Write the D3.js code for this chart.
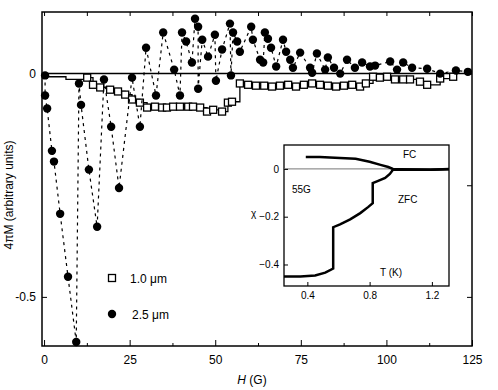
<!DOCTYPE html>
<meta charset="utf-8">
<style>
body { margin: 0; background: #fff; }
text { font-family: "Liberation Sans", Arial, sans-serif; fill: #000; }
</style>
<svg width="498" height="390"></svg>
<script src="https://cdn.jsdelivr.net/npm/d3@7/dist/d3.min.js"></script>
<script>

// 1.0 um disk: field H (G) and magnetisation (arb. units)
var smallH = [0, 4.1, 6.4, 9.1, 12.6, 14.3, 16.4, 19.3, 21.6, 23.7, 25.7, 28.0, 30.1, 32.4, 34.5, 35.9,
  37.7, 39.7, 42.1, 43.5, 45.6, 47.6, 49.4, 52.0, 53.7, 54.9, 57.2, 59.6, 61.9, 64.3, 66.6, 68.9,
  71.3, 73.6, 75.9, 78.3, 80.6, 82.9, 85.3, 87.6, 90.0, 92.3, 94.0, 96.1, 98.1, 100.2, 102.5,
  104.9, 106.9, 109.8, 111.9, 115.7, 119.5];
var smallM = [-0.007, -0.007, -0.013, -0.013, -0.009, -0.025, -0.031, -0.036, -0.040, -0.047, -0.058,
  -0.065, -0.076, -0.074, -0.076, -0.076, -0.074, -0.074, -0.074, -0.074, -0.076, -0.085, -0.081,
  -0.085, -0.065, -0.063, -0.022, -0.025, -0.027, -0.027, -0.029, -0.027, -0.025, -0.029, -0.025,
  -0.022, -0.025, -0.027, -0.029, -0.027, -0.025, -0.029, -0.022, -0.007, -0.009, -0.007, -0.013,
  -0.013, -0.013, -0.018, -0.025, -0.011, -0.007];

// 2.5 um disk
var bigH = [0.3, 0.3, 0.9, 2.3, 2.9, 4.7, 7.0, 9.4, 10.2, 10.8, 13.1, 15.5, 17.5, 19.6, 21.9, 25.7,
  28.0, 29.8, 32.7, 34.8, 38.0, 39.7, 40.3, 41.5, 43.2, 44.1, 45.0, 45.0, 46.2, 47.9, 49.9, 50.2,
  52.0, 54.3, 54.6, 55.2, 56.4, 57.2, 60.5, 61.0, 63.1, 64.0, 64.5, 65.4, 66.3, 67.8, 69.8, 70.7,
  71.9, 72.7, 74.8, 77.7, 78.3, 79.7, 82.1, 82.9, 84.7, 86.5, 88.5, 90.8, 92.9, 95.2, 96.7, 101.1,
  103.1, 104.9, 107.5, 111.9, 115.7, 120.3, 123.8];
var bigM = [-0.004, -0.049, -0.078, -0.173, -0.197, -0.314, -0.455, -0.601, -0.022, -0.070, -0.215,
  -0.343, -0.013, -0.119, -0.256, -0.009, -0.119, 0.058, -0.049, 0.092, 0.009, -0.049, 0.092, 0.072,
  0.025, 0.123, 0.105, -0.034, 0.076, 0.038, 0.087, -0.016, 0.054, 0.112, -0.004, 0.092, 0.072,
  0.049, 0.105, 0.076, 0.031, 0.025, 0.092, 0.078, 0.058, 0.016, 0.076, 0.049, 0.031, 0.013, 0.047,
  0.013, 0.002, 0.045, 0.009, 0.036, 0.013, 0.000, 0.031, 0.013, 0.025, 0.016, 0.018, 0.027, 0.009,
  0.025, 0.013, 0.011, 0.000, 0.007, 0.004];

// inset: susceptibility vs T at 55 G
var fcT = [0.39, 0.48, 0.61, 0.71, 0.80, 0.87, 0.92, 0.95, 1.06, 1.19, 1.31];
var fcChi = [0.05, 0.05, 0.046, 0.042, 0.03, 0.017, 0.008, 0, -0.002, -0.004, 0];
var zfcT = [0.25, 0.355, 0.45, 0.515, 0.566, 0.566, 0.61, 0.675, 0.74, 0.79, 0.82, 0.82, 0.855, 0.9, 0.93, 0.95, 1.06, 1.19, 1.31];
var zfcChi = [-0.45, -0.45, -0.446, -0.434, -0.417, -0.244, -0.232, -0.211, -0.185, -0.16, -0.143, -0.059, -0.05, -0.038, -0.021, -0.004, -0.003, -0.004, -0.001];

var xMajor = [0, 25, 50, 75, 100, 125],
    xMinor = [12.5, 37.5, 62.5, 87.5, 112.5],
    insetXTicks = [0.4, 0.8, 1.2],
    insetYTicks = [0, -0.2, -0.4];

var svg = d3.select("svg");

var x = d3.scaleLinear().domain([-0.6, 125]).range([42, 472]);
var y = d3.scaleLinear().domain([-0.61, 0.138]).range([346, 12]);

function zip(a, b) { return a.map(function(d, i) { return [d, b[i]]; }); }
var small = zip(smallH, smallM), big = zip(bigH, bigM);

// frame
svg.append("rect")
    .attr("x", x.range()[0]).attr("y", y.range()[1])
    .attr("width", x.range()[1] - x.range()[0])
    .attr("height", y.range()[0] - y.range()[1])
    .attr("fill", "none").attr("stroke", "#000").attr("stroke-width", 1.5);

// zero line
svg.append("line")
    .attr("x1", x.range()[0]).attr("x2", x.range()[1])
    .attr("y1", y(0)).attr("y2", y(0))
    .attr("stroke", "#000").attr("stroke-width", 1.5);

function styleAxis(g) {
  g.select(".domain").remove();
  g.selectAll("text").style("font-size", "12px");
}

svg.append("g")
    .attr("transform", "translate(0," + y.range()[0] + ")")
    .call(d3.axisBottom(x).tickValues(xMajor).tickSize(-6).tickPadding(9).tickFormat(d3.format("d")))
    .call(styleAxis);
svg.append("g")
    .attr("transform", "translate(0," + y.range()[0] + ")")
    .call(d3.axisBottom(x).tickValues(xMinor).tickSize(-3).tickFormat(""))
    .call(styleAxis);
svg.append("g")
    .attr("transform", "translate(0," + y.range()[1] + ")")
    .call(d3.axisTop(x).tickValues(xMajor.concat(xMinor)).tickSize(-4).tickFormat(""))
    .call(styleAxis);
svg.append("g")
    .attr("transform", "translate(" + x.range()[0] + ",0)")
    .call(d3.axisLeft(y).tickValues([0, -0.5]).tickSize(-5).tickPadding(6)
      .tickFormat(function(d) { return d === 0 ? "0" : "-0.5"; }))
    .call(styleAxis);
svg.append("g")
    .attr("transform", "translate(" + x.range()[1] + ",0)")
    .call(d3.axisRight(y).tickValues([0, -0.25, -0.5]).tickSize(-5).tickFormat(""))
    .call(styleAxis);

// 1.0 um: stepped solid line with open squares
svg.append("path")
    .datum(small)
    .attr("fill", "none").attr("stroke", "#000").attr("stroke-width", 1.3)
    .attr("d", d3.line().curve(d3.curveStepAfter)
      .x(function(d) { return x(d[0]); }).y(function(d) { return y(d[1]); }));
svg.append("g").selectAll("rect")
    .data(small.slice(4))
    .enter().append("rect")
      .attr("x", function(d) { return x(d[0]) - 3.5; })
      .attr("y", function(d) { return y(d[1]) - 3.5; })
      .attr("width", 7).attr("height", 7)
      .attr("fill", "#fff").attr("stroke", "#000").attr("stroke-width", 1.3);

// 2.5 um: dotted line with filled circles
svg.append("path")
    .datum(big)
    .attr("fill", "none").attr("stroke", "#000").attr("stroke-width", 1.2)
    .attr("stroke-dasharray", "3,4")
    .attr("d", d3.line().x(function(d) { return x(d[0]); }).y(function(d) { return y(d[1]); }));
svg.append("g").selectAll("circle")
    .data(big)
    .enter().append("circle")
      .attr("cx", function(d) { return x(d[0]); })
      .attr("cy", function(d) { return y(d[1]); })
      .attr("r", 4.2)
      .attr("fill", "#000");

// axis titles
svg.append("text")
    .attr("transform", "translate(13,195) rotate(-90)")
    .attr("text-anchor", "middle")
    .style("font-size", "12px")
    .text("4πM (arbitrary units)");
svg.append("text")
    .attr("x", 252).attr("y", 384)
    .attr("text-anchor", "middle")
    .style("font-size", "12px")
    .html("<tspan font-style='italic'>H</tspan> (G)");

// legend
svg.append("rect")
    .attr("x", 108.5).attr("y", 274.5).attr("width", 7).attr("height", 7)
    .attr("fill", "#fff").attr("stroke", "#000").attr("stroke-width", 1.3);
svg.append("text").attr("x", 130).attr("y", 283).style("font-size", "12px").text("1.0 μm");
svg.append("circle").attr("cx", 112).attr("cy", 314).attr("r", 4.2).attr("fill", "#000");
svg.append("text").attr("x", 132).attr("y", 319).style("font-size", "12px").text("2.5 μm");

// inset
var ix = d3.scaleLinear().domain([0.25, 1.31]).range([284, 449]);
var iy = d3.scaleLinear().domain([-0.49, 0.10]).range([286, 145]);
var inset = svg.append("g");

inset.append("rect")
    .attr("x", ix.range()[0]).attr("y", iy.range()[1])
    .attr("width", ix.range()[1] - ix.range()[0])
    .attr("height", iy.range()[0] - iy.range()[1])
    .attr("fill", "#fff").attr("stroke", "#000").attr("stroke-width", 1.3);
inset.append("line")
    .attr("x1", ix.range()[0]).attr("x2", ix.range()[1])
    .attr("y1", iy(0)).attr("y2", iy(0))
    .attr("stroke", "#777").attr("stroke-width", 1);

function styleInset(g) {
  g.select(".domain").remove();
  g.selectAll("text").style("font-size", "10px");
}
inset.append("g")
    .attr("transform", "translate(0," + iy.range()[0] + ")")
    .call(d3.axisBottom(ix).tickValues(insetXTicks).tickSize(-4).tickPadding(6).tickFormat(d3.format(".1f")))
    .call(styleInset);
inset.append("g")
    .attr("transform", "translate(" + ix.range()[0] + ",0)")
    .call(d3.axisLeft(iy).tickValues(insetYTicks).tickSize(-4).tickPadding(5)
      .tickFormat(function(d) { return d === 0 ? "0" : d3.format(".1f")(d); }))
    .call(styleInset);

var iline = d3.line().x(function(d) { return ix(d[0]); }).y(function(d) { return iy(d[1]); });
inset.append("path").datum(zip(fcT, fcChi))
    .attr("fill", "none").attr("stroke", "#000").attr("stroke-width", 2.5).attr("d", iline);
inset.append("path").datum(zip(zfcT, zfcChi))
    .attr("fill", "none").attr("stroke", "#000").attr("stroke-width", 2.5).attr("d", iline);

inset.append("text").attr("x", 403).attr("y", 158).style("font-size", "10px").text("FC");
inset.append("text").attr("x", 292).attr("y", 193).style("font-size", "10px").text("55G");
inset.append("text").attr("x", 398).attr("y", 203).style("font-size", "10px").text("ZFC");
inset.append("text").attr("x", 380).attr("y", 276).style("font-size", "10px").text("T (K)");
inset.append("text").attr("x", 251).attr("y", 217).style("font-size", "10px").text("χ");

</script>
